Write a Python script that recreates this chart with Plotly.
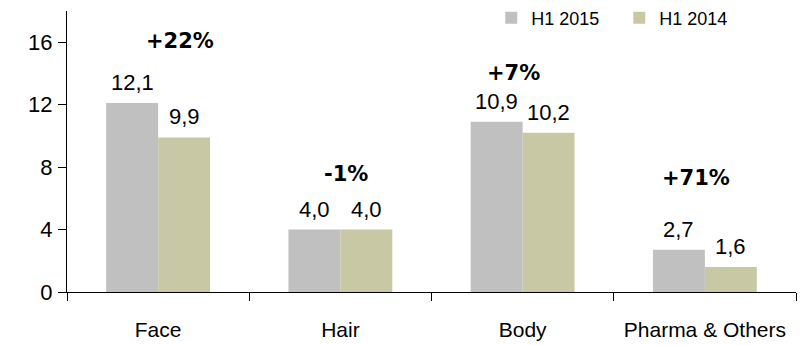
import plotly.graph_objects as go

# Sales by category (EUR m), first half of each year
categories = ["Face", "Hair", "Body", "Pharma & Others"]
h1_2015 = [12.1, 4.0, 10.9, 2.7]
h1_2014 = [9.9, 4.0, 10.2, 1.6]
growth_labels = ["+22%", "-1%", "+7%", "+71%"]

# Placement of the growth labels (category index offset, y in axis units)
growth_dx = [0.12, 0.03, -0.05, -0.05]
growth_y = [16.05, 7.57, 14.06, 7.32]

SANS = "Liberation Sans, Arial, sans-serif"
GRAY = "#C0C0C0"
OLIVE = "#C8C9A4"

fig = go.Figure()
fig.add_trace(go.Bar(name="H1 2015", x=categories, y=h1_2015,
                     marker=dict(color=GRAY, line=dict(width=0))))
fig.add_trace(go.Bar(name="H1 2014", x=categories, y=h1_2014,
                     marker=dict(color=OLIVE, line=dict(width=0))))

annotations = []
# value labels above each bar
for series, shift in ((h1_2015, -26), (h1_2014, 26)):
    for i, v in enumerate(series):
        annotations.append(dict(
            x=i, y=v, xref="x", yref="y", xshift=shift, yshift=6,
            text=f"{v:.1f}".replace(".", ","), showarrow=False,
            yanchor="bottom", xanchor="center",
            font=dict(family=SANS, size=22, color="#000000")))
# growth labels
for i, lab in enumerate(growth_labels):
    annotations.append(dict(
        x=i + growth_dx[i], y=growth_y[i], xref="x", yref="y",
        text=f"<b>{lab}</b>", showarrow=False,
        xanchor="center", yanchor="middle",
        font=dict(family="DejaVu Sans, Verdana, sans-serif", size=21, color="#000000")))

fig.update_layout(
    width=809, height=345,
    margin=dict(l=67, r=13, t=11, b=53, autoexpand=False),
    paper_bgcolor="white", plot_bgcolor="white",
    barmode="group", bargap=0.43, bargroupgap=0,
    showlegend=True,
    legend=dict(orientation="h", x=0.582, xanchor="left", y=0.975, yanchor="middle",
                font=dict(family=SANS, size=18, color="#000000"),
                entrywidth=83, entrywidthmode="pixels",
                bgcolor="rgba(0,0,0,0)", traceorder="normal"),
    annotations=annotations,
    font=dict(family=SANS, color="#000000"),
)
fig.update_xaxes(
    showline=True, linecolor="#000000", linewidth=1,
    ticks="outside", tickson="boundaries", ticklen=8, tickcolor="#000000",
    tickfont=dict(family=SANS, size=21, color="#000000"),
    tickangle=0, automargin=False,
    ticklabelstandoff=19, showgrid=False, zeroline=False,
)
fig.update_yaxes(
    range=[0, 18], tickvals=[0, 4, 8, 12, 16],
    showline=True, linecolor="#000000", linewidth=1,
    ticks="outside", ticklen=8, tickcolor="#000000",
    tickfont=dict(family=SANS, size=22, color="#000000"),
    automargin=False,
    ticklabelstandoff=1, showgrid=False, zeroline=False,
)

fig.write_html("out.html")
